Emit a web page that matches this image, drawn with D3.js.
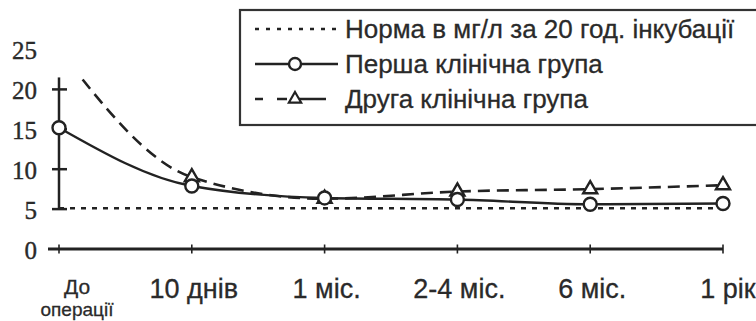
<!DOCTYPE html>
<html><head><meta charset="utf-8">
<script src="https://cdn.jsdelivr.net/npm/d3@7"></script>
<style>
html,body{margin:0;padding:0;background:#fff;}
svg{display:block;}
</style></head>
<body>
<svg id="chart" width="756" height="321"></svg>
<script>
const categories = ["До операції", "10 днів", "1 міс.", "2-4 міс.", "6 міс.", "1 рік"];
const group1 = [15.2, 7.9, 6.4, 6.2, 5.6, 5.7];
const group2 = [25.0, 9.0, 6.3, 7.2, 7.5, 8.0];
const norm = [5.1, 5.1, 5.1, 5.1, 5.1, 5.1];
const yTicks = [0, 5, 10, 15, 20, 25];
const legendLabels = ["Норма в мг/л за 20 год. інкубації", "Перша клінічна група", "Друга клінічна група"];

const ink = "#222";
const txt = "#2a2a2a";
const svg = d3.select("#chart");
const x = d3.scalePoint().domain(categories).range([59, 723]);
const y = d3.scaleLinear().domain([0, 25]).range([249, 49.5]);
const yAxisTopValue = 21.5;

svg.append("defs").append("clipPath").attr("id", "plotclip")
  .append("rect").attr("x", 40).attr("y", y(yAxisTopValue)).attr("width", 716).attr("height", 260);

// Y axis
const ya = svg.append("g");
ya.append("line").attr("x1", x(categories[0])).attr("x2", x(categories[0]))
  .attr("y1", y(5)).attr("y2", y(yAxisTopValue)).attr("stroke", ink).attr("stroke-width", 2.5);
ya.selectAll("line.t").data(yTicks.filter(d => d >= 5 && d <= 20)).join("line").attr("class", "t")
  .attr("x1", x(categories[0]) - 7).attr("x2", x(categories[0]) + 8)
  .attr("y1", d => y(d)).attr("y2", d => y(d)).attr("stroke", ink).attr("stroke-width", 2.5);
ya.selectAll("text").data(yTicks).join("text")
  .attr("x", 37).attr("y", d => y(d) + 1).attr("text-anchor", "end").attr("dominant-baseline", "central")
  .attr("font-family", "'Liberation Serif','Times New Roman',serif").attr("font-size", 25).attr("fill", txt)
  .attr("stroke", txt).attr("stroke-width", 0.4)
  .text(d => d);

// X axis
const xa = svg.append("g");
xa.append("line").attr("x1", 48).attr("x2", x(categories[categories.length - 1]))
  .attr("y1", y(0)).attr("y2", y(0)).attr("stroke", ink).attr("stroke-width", 2.8);
xa.selectAll("line.t").data(categories).join("line").attr("class", "t")
  .attr("x1", d => x(d)).attr("x2", d => x(d))
  .attr("y1", y(0) - 4.5).attr("y2", y(0) + 4.5).attr("stroke", ink).attr("stroke-width", 1.6);
xa.selectAll("text.c").data(categories.slice(1)).join("text").attr("class", "c")
  .attr("x", (d, i) => x(d) + (i === categories.length - 2 ? 5 : 2)).attr("y", 298).attr("text-anchor", "middle")
  .attr("font-family", "'Liberation Sans',Arial,sans-serif").attr("font-size", 27).attr("fill", txt)
  .attr("stroke", txt).attr("stroke-width", 0.3)
  .text(d => d);
const firstParts = categories[0].split(" ");
xa.append("text").attr("x", 77).attr("y", 294).attr("text-anchor", "middle")
  .attr("font-family", "'Liberation Sans',Arial,sans-serif").attr("font-size", 21).attr("fill", txt)
  .attr("stroke", txt).attr("stroke-width", 0.3)
  .text(firstParts[0]);
xa.append("text").attr("x", 77).attr("y", 316).attr("text-anchor", "middle")
  .attr("font-family", "'Liberation Sans',Arial,sans-serif").attr("font-size", 19).attr("fill", txt)
  .attr("stroke", txt).attr("stroke-width", 0.3)
  .text(firstParts[1]);

// Norm line
svg.append("path").datum(norm)
  .attr("d", d3.line().x((d, i) => x(categories[i])).y(d => y(d)))
  .attr("fill", "none").attr("stroke", ink).attr("stroke-width", 2.6).attr("stroke-dasharray", "5,6");

// Group 2 dashed
const g2 = svg.append("g").attr("clip-path", "url(#plotclip)");
g2.append("path").datum(group2).attr("d", d3.line().x((d, i) => x(categories[i])).y(d => y(d)).curve(d3.curveMonotoneX))
  .attr("fill", "none").attr("stroke", ink).attr("stroke-width", 2.6).attr("stroke-dasharray", "12,7");

// Group 1 solid
const g1 = svg.append("g");
g1.append("path").datum(group1).attr("d", d3.line().x((d, i) => x(categories[i])).y(d => y(d)).curve(d3.curveMonotoneX))
  .attr("fill", "none").attr("stroke", ink).attr("stroke-width", 2.4);
g1.selectAll("circle").data(group1).join("circle")
  .attr("cx", (d, i) => x(categories[i])).attr("cy", d => y(d)).attr("r", 6.5)
  .attr("fill", "#fff").attr("stroke", ink).attr("stroke-width", 2.4);

const tri = d3.symbol().type(d3.symbolTriangle).size(85);
g2.selectAll("path.m").data(group2).join("path").attr("class", "m")
  .attr("d", tri).attr("transform", (d, i) => `translate(${x(categories[i])},${y(d)})`)
  .attr("fill", "#fff").attr("stroke", ink).attr("stroke-width", 2.4);

// Legend
const lg = svg.append("g");
lg.append("rect").attr("x", 240).attr("y", 10).attr("width", 530).attr("height", 115)
  .attr("fill", "none").attr("stroke", "#333").attr("stroke-width", 2.2);
const rowsY = [29, 64, 99];
lg.selectAll("text").data(legendLabels).join("text")
  .attr("x", 345).attr("y", (d, i) => rowsY[i] + 9)
  .attr("font-family", "'Liberation Sans',Arial,sans-serif").attr("font-size", 26).attr("fill", txt)
  .attr("stroke", txt).attr("stroke-width", 0.3)
  .text(d => d);
lg.append("line").attr("x1", 255).attr("x2", 340).attr("y1", rowsY[0]).attr("y2", rowsY[0])
  .attr("stroke", ink).attr("stroke-width", 2.6).attr("stroke-dasharray", "4,7");
lg.append("line").attr("x1", 255).attr("x2", 338).attr("y1", rowsY[1]).attr("y2", rowsY[1])
  .attr("stroke", ink).attr("stroke-width", 2.4);
lg.append("circle").attr("cx", 295).attr("cy", rowsY[1]).attr("r", 6)
  .attr("fill", "#fff").attr("stroke", ink).attr("stroke-width", 2.4);
lg.append("line").attr("x1", 255).attr("x2", 330).attr("y1", rowsY[2]).attr("y2", rowsY[2])
  .attr("stroke", ink).attr("stroke-width", 2.4).attr("stroke-dasharray", "8,14,10,11,20,0");
lg.append("path").attr("d", d3.symbol().type(d3.symbolTriangle).size(65))
  .attr("transform", `translate(295,${rowsY[2]})`).attr("fill", "#fff").attr("stroke", ink).attr("stroke-width", 2.2);
</script>
</body></html>
